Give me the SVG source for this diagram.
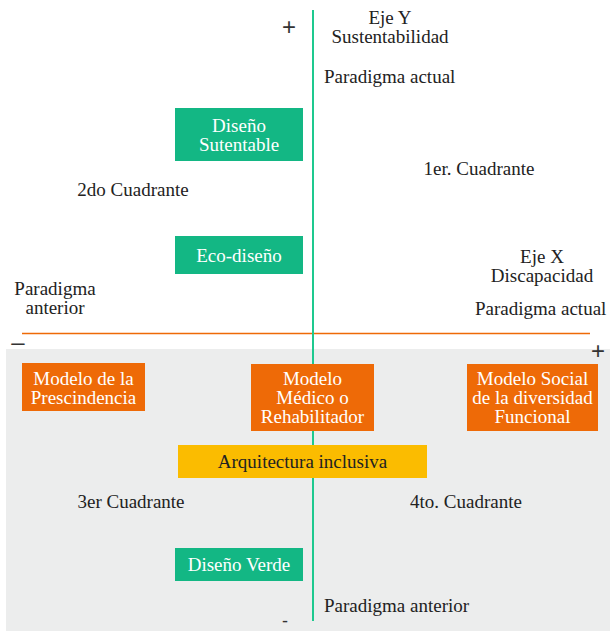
<svg xmlns="http://www.w3.org/2000/svg" width="610" height="631" viewBox="0 0 610 631">
<style>
text{font-family:"Liberation Serif","Times New Roman",serif;font-size:19px;fill:#222;}
.c{text-anchor:middle;}
.w{fill:#fff;}
.sym{font-family:"Liberation Sans",Arial,sans-serif;font-size:24px;fill:#333;text-anchor:middle;}
.g{fill:#13b784;}
.o{fill:#ee6a07;}
.y{fill:#fbbc00;}
</style>
<rect x="6" y="349" width="604" height="282" fill="#eceded"/>
<g id="axes">
<line x1="22" y1="333.5" x2="590" y2="333.5" stroke="#ee6a07" stroke-width="1.5"/>
<line x1="313" y1="10" x2="313" y2="621" stroke="#1ec98f" stroke-width="2"/>
</g>
<g id="axis-labels">
<text class="sym" x="289" y="35">+</text>
<text class="sym" x="18" y="350">–</text>
<text class="sym" x="598" y="359">+</text>
<text class="sym" x="285" y="627" style="font-size:18px">-</text>
<text class="c" x="390" y="24">Eje Y</text>
<text class="c" x="390" y="43">Sustentabilidad</text>
<text x="324" y="83">Paradigma actual</text>
<text class="c" x="542" y="263">Eje X</text>
<text class="c" x="542" y="282">Discapacidad</text>
<text x="475" y="315">Paradigma actual</text>
<text class="c" x="55" y="295">Paradigma</text>
<text class="c" x="55" y="314">anterior</text>
<text x="324" y="612">Paradigma anterior</text>
<text class="c" x="479" y="175">1er. Cuadrante</text>
<text class="c" x="133" y="196">2do Cuadrante</text>
<text class="c" x="131" y="508">3er Cuadrante</text>
<text class="c" x="466" y="508">4to. Cuadrante</text>
</g>
<g id="diseno-sutentable">
<rect class="g" x="175" y="108" width="128" height="53"/>
<text class="c w" x="239" y="132">Diseño</text>
<text class="c w" x="239" y="151">Sutentable</text>
</g>
<g id="eco-diseno">
<rect class="g" x="175" y="236" width="128" height="38"/>
<text class="c w" x="239" y="262">Eco-diseño</text>
</g>
<g id="modelo-prescindencia">
<rect class="o" x="22" y="363" width="123" height="48"/>
<text class="c w" x="83.5" y="385">Modelo de la</text>
<text class="c w" x="83.5" y="404">Prescindencia</text>
</g>
<g id="modelo-medico">
<rect class="o" x="251" y="364" width="123" height="67"/>
<text class="c w" x="312.5" y="385">Modelo</text>
<text class="c w" x="312.5" y="404">Médico o</text>
<text class="c w" x="312.5" y="423">Rehabilitador</text>
</g>
<g id="modelo-social">
<rect class="o" x="467" y="364" width="131" height="67"/>
<text class="c w" x="532.5" y="385">Modelo Social</text>
<text class="c w" x="532.5" y="404">de la diversidad</text>
<text class="c w" x="532.5" y="423">Funcional</text>
</g>
<g id="arquitectura-inclusiva">
<rect class="y" x="178" y="445" width="249" height="33"/>
<text class="c" x="302.5" y="468">Arquitectura inclusiva</text>
</g>
<g id="diseno-verde">
<rect class="g" x="175" y="548" width="128" height="33"/>
<text class="c w" x="239" y="571">Diseño Verde</text>
</g>
</svg>
